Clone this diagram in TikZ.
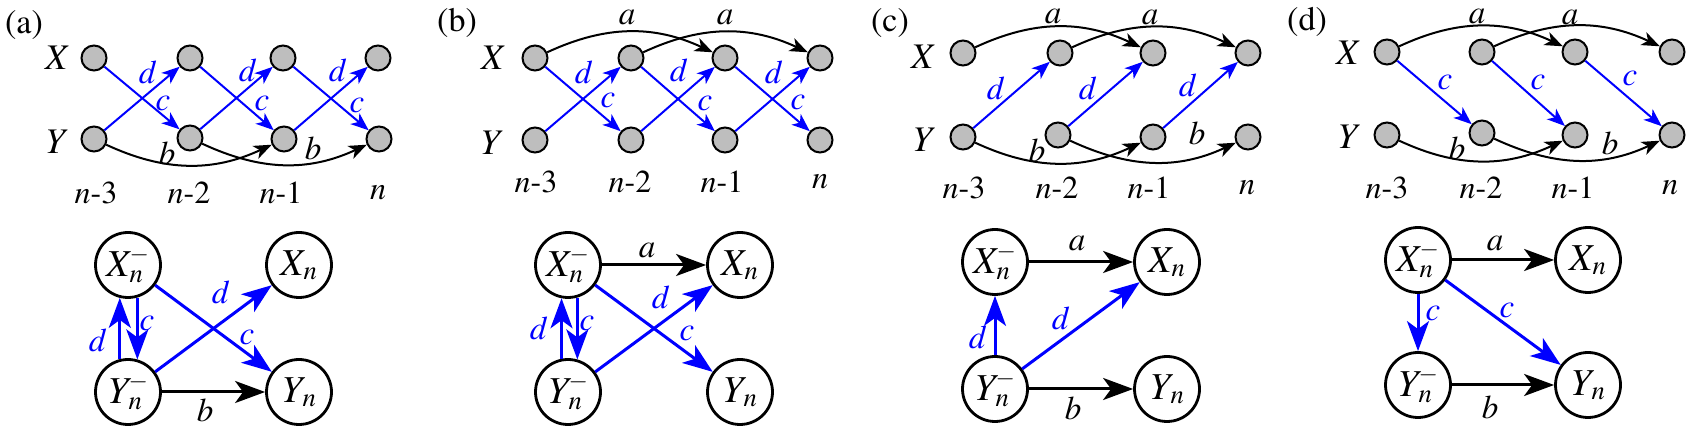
\documentclass[tikz,border=0pt]{standalone}
\usepackage{fontspec}
\setmainfont{texgyretermes}[Extension=.otf, UprightFont=*-regular, ItalicFont=*-italic, BoldFont=*-bold, BoldItalicFont=*-bolditalic]
\usepackage{amsmath}
\usetikzlibrary{arrows.meta}
\definecolor{nodegray}{RGB}{190,190,190}
\definecolor{eblue}{RGB}{0,0,255}
\tikzset{
  sdot/.style={circle, draw=black, line width=2pt, fill=nodegray, minimum size=25pt, inner sep=0pt},
  bnode/.style={circle, draw=black, line width=2.8pt, minimum size=65pt, inner sep=0pt, font=\fontsize{38}{44}\selectfont},
  tarr/.style={line width=2pt, -{Stealth[length=18pt,width=14pt,inset=5pt]}},
  barr/.style={line width=3pt, -{Stealth[length=30pt,width=22pt,inset=8pt]}},
  bl/.style={draw=eblue},
  rowlab/.style={font=\fontsize{36}{42}\selectfont\itshape, inner sep=0pt},
  nlab/.style={font=\fontsize{32}{38}\selectfont, inner sep=0pt},
  elab/.style={font=\fontsize{33}{38}\selectfont\itshape, inner sep=0pt},
  eblab/.style={elab, text=eblue},
  plab/.style={font=\fontsize{34}{40}\selectfont, inner sep=0pt}
}
\begin{document}
\begin{tikzpicture}[x=1pt,y=1pt]
\useasboundingbox (0,0) rectangle (1686,427);
% ================= panel (a) =================
\node[plab] (alab) at (24,402) {(a)};
\node[rowlab] (aXl) at (56,369) {X};
\node[rowlab] (aYl) at (55,285) {Y};
\node[sdot] (aX1) at (94,369) {};
\node[sdot] (aX2) at (190,369) {};
\node[sdot] (aX3) at (283,369) {};
\node[sdot] (aX4) at (378,369) {};
\node[sdot] (aY1) at (94,288) {};
\node[sdot] (aY2) at (190,289) {};
\node[sdot] (aY3) at (284,288) {};
\node[sdot] (aY4) at (379,288) {};
\node[nlab] (aN1) at (96,234) {\textit{n}-3};
\node[nlab] (aN2) at (189,234) {\textit{n}-2};
\node[nlab] (aN3) at (281,234) {\textit{n}-1};
\node[nlab] (aN4) at (378,234) {\textit{n}};
\draw[tarr,bl] (aX1) -- (aY2);
\draw[tarr,bl] (aY1) -- (aX2);
\draw[tarr,bl] (aX2) -- (aY3);
\draw[tarr,bl] (aY2) -- (aX3);
\draw[tarr,bl] (aX3) -- (aY4);
\draw[tarr,bl] (aY3) -- (aX4);
\draw[tarr] (aY1) to[out=-25,in=-155] (aY3);
\draw[tarr] (aY2) to[out=-25,in=-155] (aY4);
\node[eblab] (ad1) at (147,355) {d};
\node[eblab] (ac1) at (163,324) {c};
\node[eblab] (ad2) at (247,357) {d};
\node[eblab] (ac2) at (262,324) {c};
\node[eblab] (ad3) at (337,357) {d};
\node[eblab] (ac3) at (357,322) {c};
\node[elab] (ab1) at (167,274) {b};
\node[elab] (ab2) at (313,279) {b};
% bottom (a)
\node[bnode] (aXm) at (128,162) {$\textit{X}_{\textit{n}}^{-}$};
\node[bnode] (aXn) at (299,162) {$\textit{X}_{\textit{n}}$};
\node[bnode] (aYm) at (128,35) {$\textit{Y}_{\textit{n}}^{-}$};
\node[bnode] (aYn) at (299,35) {$\textit{Y}_{\textit{n}}$};
\draw[barr,bl] (aYm.104) -- (aXm.256);
\draw[barr,bl] (aXm.-74) -- (aYm.74);
\draw[barr,bl] (aXm) -- (aYn);
\draw[barr,bl] (aYm) -- (aXn);
\draw[barr] (aYm) -- (aYn);
\node[eblab] (aBd1) at (97,87) {d};
\node[eblab] (aBc1) at (147,104) {c};
\node[eblab] (aBd2) at (220,135) {d};
\node[eblab] (aBc2) at (247,90) {c};
\node[elab] (aBb) at (205,17) {b};
% ================= panel (b) =================
\node[plab] (blab) at (457,404) {(b)};
\node[rowlab] (bXl) at (492,369) {X};
\node[rowlab] (bYl) at (490,284) {Y};
\node[sdot] (bX1) at (535,369) {};
\node[sdot] (bX2) at (631,369) {};
\node[sdot] (bX3) at (725,369) {};
\node[sdot] (bX4) at (820,369) {};
\node[sdot] (bY1) at (535,287) {};
\node[sdot] (bY2) at (631,287) {};
\node[sdot] (bY3) at (725,287) {};
\node[sdot] (bY4) at (820,287) {};
\node[nlab] (bN1) at (536,245) {\textit{n}-3};
\node[nlab] (bN2) at (630,245) {\textit{n}-2};
\node[nlab] (bN3) at (722,245) {\textit{n}-1};
\node[nlab] (bN4) at (820,245) {\textit{n}};
\draw[tarr,bl] (bX1) -- (bY2);
\draw[tarr,bl] (bY1) -- (bX2);
\draw[tarr,bl] (bX2) -- (bY3);
\draw[tarr,bl] (bY2) -- (bX3);
\draw[tarr,bl] (bX3) -- (bY4);
\draw[tarr,bl] (bY3) -- (bX4);
\draw[tarr] (bX1) to[out=25,in=155] (bX3);
\draw[tarr] (bX2) to[out=25,in=155] (bX4);
\node[elab] (ba1) at (627,410) {a};
\node[elab] (ba2) at (725,410) {a};
\node[eblab] (bd1) at (583,355) {d};
\node[eblab] (bc1) at (608,327) {c};
\node[eblab] (bd2) at (678,357) {d};
\node[eblab] (bc2) at (705,324) {c};
\node[eblab] (bd3) at (773,355) {d};
\node[eblab] (bc3) at (798,325) {c};
% bottom (b)
\node[bnode] (bXm) at (568,162) {$\textit{X}_{\textit{n}}^{-}$};
\node[bnode] (bXn) at (740,162) {$\textit{X}_{\textit{n}}$};
\node[bnode] (bYm) at (568,35) {$\textit{Y}_{\textit{n}}^{-}$};
\node[bnode] (bYn) at (740,35) {$\textit{Y}_{\textit{n}}$};
\draw[barr] (bXm) -- (bXn);
\draw[barr,bl] (bYm.101) -- (bXm.259);
\draw[barr,bl] (bXm.-74) -- (bYm.74);
\draw[barr,bl] (bXm) -- (bYn);
\draw[barr,bl] (bYm) -- (bXn);
\node[elab] (bBa) at (647,177) {a};
\node[eblab] (bBd1) at (538,99) {d};
\node[eblab] (bBc1) at (587,104) {c};
\node[eblab] (bBc2) at (687,94) {c};
\node[eblab] (bBd2) at (660,130) {d};
% ================= panel (c) =================
\node[plab] (clab) at (890,404) {(c)};
\node[rowlab] (cXl) at (922,370) {X};
\node[rowlab] (cYl) at (922,287) {Y};
\node[sdot] (cX1) at (963,374) {};
\node[sdot] (cX2) at (1060,374) {};
\node[sdot] (cX3) at (1153,374) {};
\node[sdot] (cX4) at (1248,374) {};
\node[sdot] (cY1) at (963,290) {};
\node[sdot] (cY2) at (1058,292) {};
\node[sdot] (cY3) at (1153,290) {};
\node[sdot] (cY4) at (1248,290) {};
\node[nlab] (cN1) at (964,239) {\textit{n}-3};
\node[nlab] (cN2) at (1057,239) {\textit{n}-2};
\node[nlab] (cN3) at (1149,239) {\textit{n}-1};
\node[nlab] (cN4) at (1247,239) {\textit{n}};
\draw[tarr] (cX1) to[out=25,in=155] (cX3);
\draw[tarr] (cX2) to[out=25,in=155] (cX4);
\draw[tarr,bl] (cY1) -- (cX2);
\draw[tarr,bl] (cY2) -- (cX3);
\draw[tarr,bl] (cY3) -- (cX4);
\draw[tarr] (cY1) to[out=-25,in=-155] (cY3);
\draw[tarr] (cY2) to[out=-25,in=-155] (cY4);
\node[elab] (ca1) at (1053,411) {a};
\node[elab] (ca2) at (1150,410) {a};
\node[eblab] (cd1) at (995,339) {d};
\node[eblab] (cd2) at (1087,339) {d};
\node[eblab] (cd3) at (1187,342) {d};
\node[elab] (cb1) at (1037,277) {b};
\node[elab] (cb2) at (1197,294) {b};
% bottom (c)
\node[bnode] (cXm) at (995,165) {$\textit{X}_{\textit{n}}^{-}$};
\node[bnode] (cXn) at (1167,165) {$\textit{X}_{\textit{n}}$};
\node[bnode] (cYm) at (995,38) {$\textit{Y}_{\textit{n}}^{-}$};
\node[bnode] (cYn) at (1167,38) {$\textit{Y}_{\textit{n}}$};
\draw[barr] (cXm) -- (cXn);
\draw[barr,bl] (cYm) -- (cXm);
\draw[barr,bl] (cYm) -- (cXn);
\draw[barr] (cYm) -- (cYn);
\node[elab] (cBa) at (1077,184) {a};
\node[eblab] (cBd1) at (977,90) {d};
\node[eblab] (cBd2) at (1060,109) {d};
\node[elab] (cBb) at (1073,19) {b};
% ================= panel (d) =================
\node[plab] (dlab) at (1307,405) {(d)};
\node[rowlab] (dXl) at (1347,374) {X};
\node[rowlab] (dYl) at (1347,290) {Y};
\node[sdot] (dX1) at (1387,375) {};
\node[sdot] (dX2) at (1482,375) {};
\node[sdot] (dX3) at (1575,375) {};
\node[sdot] (dX4) at (1672,375) {};
\node[sdot] (dY1) at (1387,292) {};
\node[sdot] (dY2) at (1482,294) {};
\node[sdot] (dY3) at (1575,292) {};
\node[sdot] (dY4) at (1672,292) {};
\node[nlab] (dN1) at (1387,239) {\textit{n}-3};
\node[nlab] (dN2) at (1481,239) {\textit{n}-2};
\node[nlab] (dN3) at (1573,239) {\textit{n}-1};
\node[nlab] (dN4) at (1670,239) {\textit{n}};
\draw[tarr] (dX1) to[out=25,in=155] (dX3);
\draw[tarr] (dX2) to[out=25,in=155] (dX4);
\draw[tarr,bl] (dX1) -- (dY2);
\draw[tarr,bl] (dX2) -- (dY3);
\draw[tarr,bl] (dX3) -- (dY4);
\draw[tarr] (dY1) to[out=-25,in=-155] (dY3);
\draw[tarr] (dY2) to[out=-25,in=-155] (dY4);
\node[elab] (da1) at (1477,411) {a};
\node[elab] (da2) at (1570,410) {a};
\node[eblab] (dc1) at (1445,345) {c};
\node[eblab] (dc2) at (1538,345) {c};
\node[eblab] (dc3) at (1630,349) {c};
\node[elab] (db1) at (1457,279) {b};
\node[elab] (db2) at (1610,284) {b};
% bottom (d)
\node[bnode] (dXm) at (1418,167) {$\textit{X}_{\textit{n}}^{-}$};
\node[bnode] (dXn) at (1588,167) {$\textit{X}_{\textit{n}}$};
\node[bnode] (dYm) at (1418,42) {$\textit{Y}_{\textit{n}}^{-}$};
\node[bnode] (dYn) at (1588,42) {$\textit{Y}_{\textit{n}}$};
\draw[barr] (dXm) -- (dXn);
\draw[barr,bl] (dXm) -- (dYm);
\draw[barr,bl] (dXm) -- (dYn);
\draw[barr] (dYm) -- (dYn);
\node[elab] (dBa) at (1495,184) {a};
\node[eblab] (dBc1) at (1433,114) {c};
\node[eblab] (dBc2) at (1507,117) {c};
\node[elab] (dBb) at (1490,20) {b};
\end{tikzpicture}
\end{document}
